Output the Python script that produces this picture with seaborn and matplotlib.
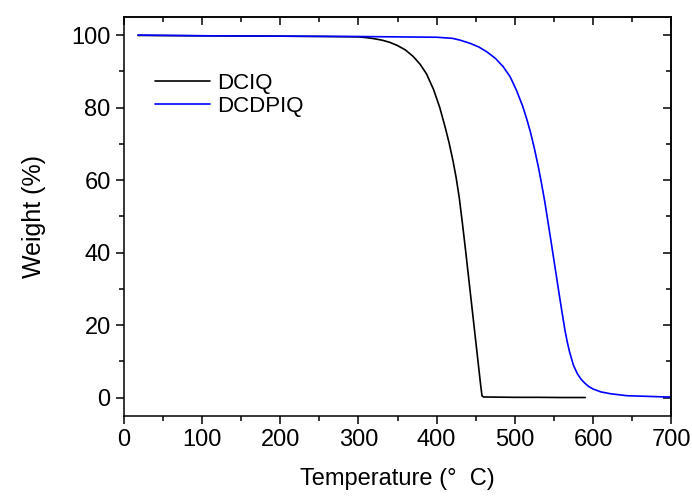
import numpy as np
import pandas as pd
import matplotlib
matplotlib.use("Agg")
import matplotlib.pyplot as plt
import seaborn as sns
from matplotlib.ticker import MultipleLocator

# TGA curves
dciq_temp = [18, 100, 200, 260, 280, 300, 310, 320, 330, 340, 350, 360, 370, 379, 387,
             396, 404, 411, 416, 421, 425, 429, 433, 437, 441, 445, 449, 453, 456, 458,
             460, 480, 500, 530, 560, 590]
dciq_weight = [99.9, 99.8, 99.7, 99.6, 99.55, 99.5, 99.3, 99.0, 98.6, 98.0, 97.1, 95.9,
               94.1, 91.9, 89.3, 85.0, 80.0, 74.5, 70.2, 65.2, 60.6, 55.0, 48.0, 40.6,
               32.9, 25.2, 17.5, 9.8, 4.0, 0.5, 0.2, 0.15, 0.1, 0.1, 0.05, 0.05]

dcdpiq_temp = [18, 100, 200, 300, 350, 400, 420, 430, 443, 454, 464, 475, 485, 494, 502,
               510, 515, 520, 525, 530, 534, 538, 542, 546, 551, 556, 560, 564, 567, 570,
               575, 580, 585, 590, 595, 600, 610, 622, 643, 665, 694, 700]
dcdpiq_weight = [100, 99.8, 99.7, 99.6, 99.5, 99.4, 99.1, 98.6, 97.7, 96.7, 95.4, 93.6,
                 91.3, 88.5, 84.8, 80.4, 77.0, 73.2, 68.7, 63.7, 59.2, 54.4, 49.0, 43.5,
                 36.5, 29.5, 24.0, 18.7, 15.4, 12.6, 8.9, 6.6, 5.0, 3.9, 3.0, 2.4, 1.6,
                 1.1, 0.55, 0.4, 0.2, 0.2]

series_names = ["DCIQ", "DCDPIQ"]
series_colors = ["black", "#0000ff"]

df = pd.concat([
    pd.DataFrame({"Temperature": dciq_temp, "Weight": dciq_weight, "Sample": series_names[0]}),
    pd.DataFrame({"Temperature": dcdpiq_temp, "Weight": dcdpiq_weight, "Sample": series_names[1]}),
])

sns.set_style("ticks")
plt.rcParams["font.family"] = ["Liberation Sans", "DejaVu Sans"]
plt.rcParams["text.color"] = "black"
plt.rcParams["axes.labelcolor"] = "black"
plt.rcParams["xtick.color"] = "black"
plt.rcParams["ytick.color"] = "black"

fig = plt.figure(figsize=(6.92, 4.98), dpi=100)
ax = fig.add_axes([0.179, 0.165, 0.791, 0.801])

sns.lineplot(data=df, x="Temperature", y="Weight", hue="Sample",
             palette=dict(zip(series_names, series_colors)), sort=False,
             estimator=None, linewidth=1.2, ax=ax)

ax.set_xlim(0, 700)
ax.set_ylim(-5, 105)
ax.xaxis.set_major_locator(MultipleLocator(100))
ax.xaxis.set_minor_locator(MultipleLocator(50))
ax.yaxis.set_major_locator(MultipleLocator(20))
ax.yaxis.set_minor_locator(MultipleLocator(10))
ax.tick_params(which="major", direction="out", length=6, width=1.1, labelsize=17,
               color="black", labelcolor="black")
ax.tick_params(which="minor", direction="out", length=3.5, width=1.1, color="black")

# inward ticks on top and right, like the original plot
top = ax.secondary_xaxis("top")
top.xaxis.set_major_locator(MultipleLocator(100))
top.xaxis.set_minor_locator(MultipleLocator(50))
top.tick_params(which="major", direction="in", length=6, width=1.1, labeltop=False)
top.tick_params(which="minor", direction="in", length=3.5, width=1.1)
right = ax.secondary_yaxis("right")
right.yaxis.set_major_locator(MultipleLocator(20))
right.yaxis.set_minor_locator(MultipleLocator(10))
right.tick_params(which="major", direction="in", length=6, width=1.1, labelright=False)
right.tick_params(which="minor", direction="in", length=3.5, width=1.1)

for sp in list(ax.spines.values()) + [top.spines["top"], right.spines["right"]]:
    sp.set_linewidth(1.1)
    sp.set_color("black")

ax.set_xlabel("Temperature (°  C)", fontsize=17, labelpad=12)
ax.set_ylabel("Weight (%)", fontsize=18, labelpad=18)

leg = ax.legend(loc="upper left", bbox_to_anchor=(0.02, 0.91), frameon=False,
                fontsize=16, handlelength=2.5, handletextpad=0.3, labelspacing=0.1)
for line in leg.get_lines():
    line.set_linewidth(1.2)

fig.savefig("out.png", dpi=100)
